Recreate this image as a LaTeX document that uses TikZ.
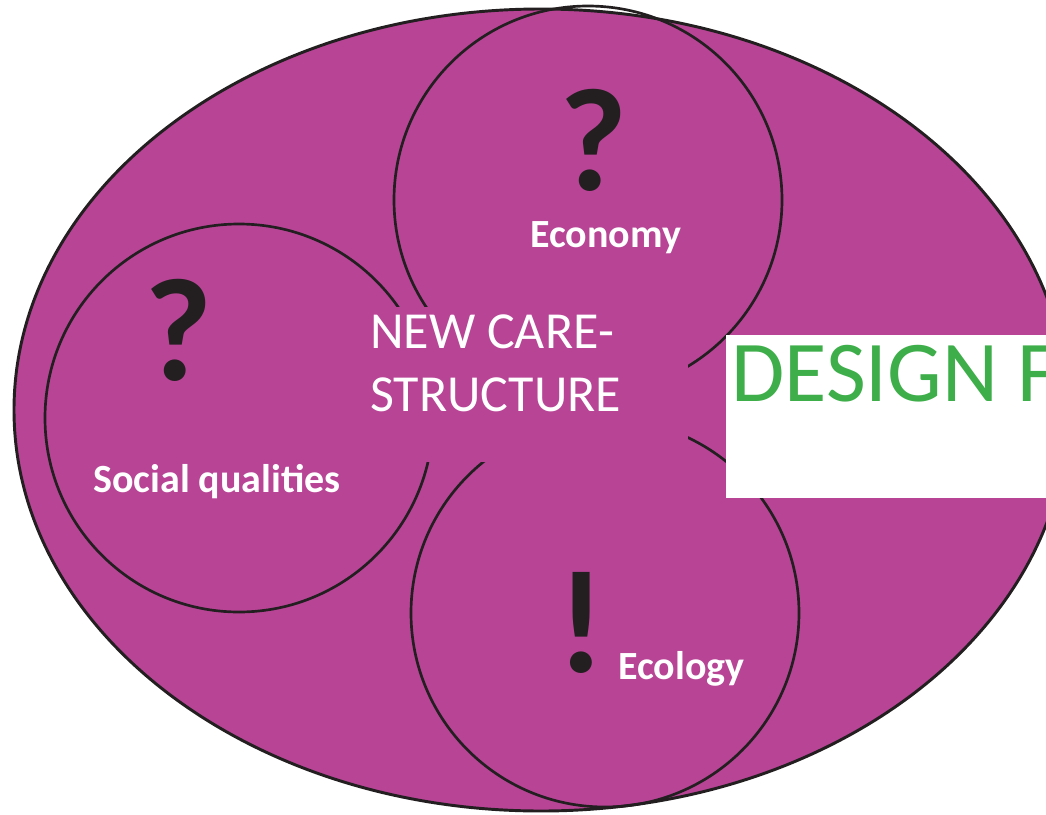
\documentclass[tikz,border=0pt]{standalone}
\usepackage{fontspec}
\setmainfont{Carlito}
\definecolor{purp}{HTML}{B84496}
\definecolor{ink}{HTML}{231F20}
\definecolor{grn}{HTML}{3DAE49}
\begin{document}
\begin{tikzpicture}[x=0.75pt,y=-0.75pt,
  ring/.style={draw=ink,line width=2pt},
  lbl/.style={text=white,font=\fontsize{30}{33}\selectfont\bfseries,inner sep=0pt,anchor=base west},
  glyphmark/.style={text=ink,font=\fontsize{110}{120}\selectfont\bfseries,inner sep=0pt,anchor=base},
  centre/.style={text=white,font=\fontsize{39}{47}\selectfont,inner sep=0pt,anchor=base west}]
\useasboundingbox (0,0) rectangle (1046,814);
\clip (0,0) rectangle (1046,814);
\fill[white] (0,0) rectangle (1046,814);
\draw[fill=purp,draw=ink,line width=2.2pt] (541,410) ellipse [x radius=527, y radius=401];
\node[circle,ring,minimum size=388*0.75pt,inner sep=0pt] (eco) at (588,200) {};
\node[circle,ring,minimum size=388*0.75pt,inner sep=0pt] (soc) at (239,418) {};
\node[circle,ring,minimum size=388*0.75pt,inner sep=0pt] (ecl) at (605,613) {};
\fill[purp] (355,307) rectangle (688,462);
\node[centre] (n1) at (370,348) {NEW CARE-};
\node[centre] (n2) at (370,411) {STRUCTURE};
\node[glyphmark] (q1) at (593,190) {?};
\node[glyphmark] (q2) at (178,380) {?};
\node[glyphmark] (ex) at (581,672) {!};
\node[lbl] (le) at (530,247) {Economy};
\node[lbl] (ls) at (93,492) {Social qualities};
\node[lbl] (ll) at (618,679) {Ecology};
\fill[white] (726,335) rectangle (1046,498);
\node[text=grn,font=\fontsize{65}{70}\selectfont,inner sep=0pt,anchor=base west] (dz) at (731,401) {DESIGN F};
\end{tikzpicture}
\end{document}
